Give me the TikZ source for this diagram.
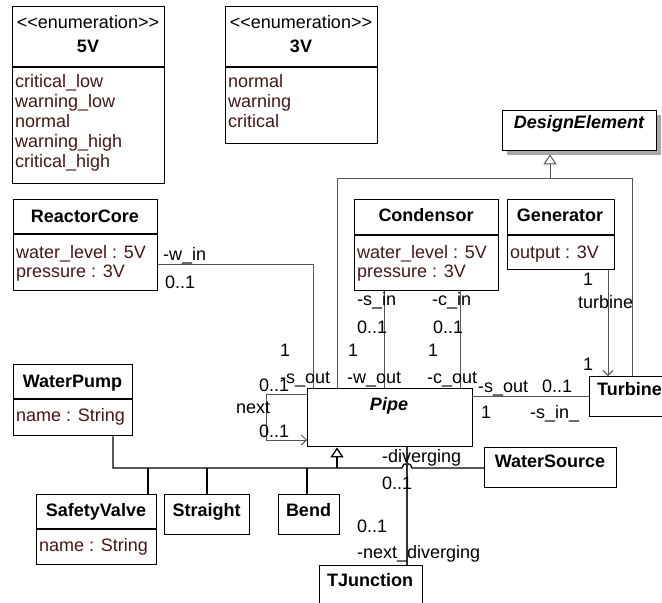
\documentclass[tikz,border=0pt]{standalone}
\usepackage{fontspec}
\setmainfont{Liberation Sans}
\usetikzlibrary{arrows.meta,shadows}

\definecolor{attrc}{RGB}{72,22,22}
\definecolor{linec}{RGB}{85,85,85}
\definecolor{shadowc}{RGB}{170,170,170}
\newcommand\fs{\fontsize{18}{20}\selectfont}
\newcommand\stereo{<\kern0pt<enumeration>\kern0pt>}

\begin{document}
\begin{tikzpicture}[x=1pt,y=-1pt,
  box/.style={draw=black, line width=1.4pt, fill=white, inner sep=0pt, anchor=north west},
  sepl/.style={draw=black, line width=1.2pt},
  ttl/.style={anchor=base, inner sep=0pt, font=\fs\bfseries},
  ittl/.style={anchor=base, inner sep=0pt, font=\fs\bfseries\itshape},
  ster/.style={anchor=base, inner sep=0pt, font=\fs},
  attr/.style={anchor=base west, inner sep=0pt, text=attrc, font=\fs},
  lbl/.style={anchor=base west, inner sep=0pt, font=\fs},
  assoc/.style={draw=linec, line width=1pt},
  tree/.style={draw=black, line width=1.3pt},
  gentip/.style={-{Triangle[length=10pt,width=13pt,fill=white]}},
  navtip/.style={-{Straight Barb[length=5pt,width=10pt]}}
]
\useasboundingbox (0,0) rectangle (662,603);

% ---------- enumerations ----------
\node[box, minimum width=152pt, minimum height=177pt] (e5) at (12,6) {};
\draw[sepl] (e5.west |- 0,67) -- (e5.east |- 0,67);
\node[ster] (e5s) at (88,28) {\stereo};
\node[ttl] (e5t) at (88,52) {5V};
\foreach \t [count=\i] in {critical\_low, warning\_low, normal, warning\_high, critical\_high}
  \node[attr] (e5a\i) at (15,67.5+20*\i) {\t};

\node[box, minimum width=152pt, minimum height=137pt] (e3) at (225,6) {};
\draw[sepl] (e3.west |- 0,67) -- (e3.east |- 0,67);
\node[ster] (e3s) at (301,28) {\stereo};
\node[ttl] (e3t) at (301,52) {3V};
\foreach \t [count=\i] in {normal, warning, critical}
  \node[attr] (e3a\i) at (228,67.5+20*\i) {\t};

% ---------- abstract base ----------
\node[box, minimum width=154pt, minimum height=40pt,
      drop shadow={shadow xshift=4pt, shadow yshift=-4pt, fill=shadowc, opacity=1}] (de) at (502,110) {};
\node[ittl] (det) at (579,128) {DesignElement};

% ---------- classes ----------
\node[box, minimum width=144pt, minimum height=91pt] (rc) at (13,199) {};
\draw[sepl] (rc.west |- 0,234) -- (rc.east |- 0,234);
\node[ttl] (rct) at (85,222) {ReactorCore};
\node[attr] (rca1) at (16,258) {water\_level : 5V};
\node[attr] (rca2) at (16,277) {pressure : 3V};

\node[box, minimum width=144pt, minimum height=91pt] (cond) at (354,199) {};
\draw[sepl] (cond.west |- 0,235) -- (cond.east |- 0,235);
\node[ttl] (condt) at (426,221) {Condensor};
\node[attr] (conda1) at (357,258) {water\_level : 5V};
\node[attr] (conda2) at (357,277) {pressure : 3V};

\node[box, minimum width=107pt, minimum height=70pt] (gen) at (507,199) {};
\draw[sepl] (gen.west |- 0,235) -- (gen.east |- 0,235);
\node[ttl] (gent) at (560,221) {Generator};
\node[attr] (gena1) at (510,258) {output : 3V};

\node[box, minimum width=165pt, minimum height=58pt] (pipe) at (307,388) {};
\node[ittl] (pipet) at (389,410) {Pipe};

\node[box, minimum width=110pt, minimum height=40pt] (turb) at (589,376) {};
\node[ttl, anchor=base west] (turbt) at (597,395) {Turbine};

\node[box, minimum width=119pt, minimum height=71pt] (wp) at (13,364) {};
\draw[sepl] (wp.west |- 0,399) -- (wp.east |- 0,399);
\node[ttl] (wpt) at (72.5,387) {WaterPump};
\node[attr] (wpa1) at (16,421) {name : String};

\node[box, minimum width=120pt, minimum height=70pt] (sv) at (36,494) {};
\draw[sepl] (sv.west |- 0,529) -- (sv.east |- 0,529);
\node[ttl] (svt) at (96,516) {SafetyValve};
\node[attr] (sva1) at (39,551) {name : String};

\node[box, minimum width=85pt, minimum height=40pt] (str) at (164,494) {};
\node[ttl] (strt) at (206.5,516) {Straight};

\node[box, minimum width=61pt, minimum height=40pt] (bend) at (278,494) {};
\node[ttl] (bendt) at (308.5,516) {Bend};

\node[box, minimum width=132pt, minimum height=40pt] (ws) at (484,447) {};
\node[ttl] (wst) at (550,467) {WaterSource};

\node[box, minimum width=103pt, minimum height=45pt] (tj) at (319,565) {};
\node[ttl] (tjt) at (370,586) {TJunction};

% ---------- generalization to DesignElement ----------
\coordinate (gl) at (337,178);
\coordinate (gr) at (632,178);
\coordinate (gj) at (550,178);
\path (gj |- de.south) ++(0,3) coordinate (detip);
\draw[assoc] (gl |- pipe.north) -- (gl) -- (gr) -- (gr |- turb.north);
\draw[assoc, gentip] (gj) -- (detip);

% ---------- generalization to Pipe ----------
\coordinate (bj) at (337,468);
\coordinate (wpj) at (113,468);
\coordinate (svj) at (148,468);
\coordinate (strj) at (207,468);
\coordinate (bendj) at (307,468);
\coordinate (hopl) at (402,468);
\coordinate (hopr) at (412,468);
\draw[tree] (wpj |- wp.south) -- (wpj) -- (hopl)
  .. controls (402,462) and (412,462) .. (hopr) -- (ws.west |- bj);
\draw[tree] (svj) -- (svj |- sv.north);
\draw[tree] (strj) -- (strj |- str.north);
\draw[tree] (bendj) -- (bendj |- bend.north);
\draw[tree, gentip] (bj) -- (bj |- pipe.south);

% ---------- associations ----------
\coordinate (rcw) at (313,264);
\draw[assoc] (rcw -| rc.east) -- (rcw) -- (rcw |- pipe.north);
\coordinate (csx) at (384,0);
\coordinate (ccx) at (460,0);
\draw[assoc] (csx |- cond.south) -- (csx |- pipe.north);
\draw[assoc] (ccx |- cond.south) -- (ccx |- pipe.north);
\coordinate (pt) at (0,396);
\draw[assoc] (pt -| pipe.east) -- (pt -| turb.west);
\coordinate (gtx) at (608,0);
\draw[assoc, navtip] (gtx |- gen.south) -- (gtx |- turb.north);
\coordinate (nlt) at (266,394);
\coordinate (nlb) at (266,440);
\draw[assoc, navtip] (nlt -| pipe.west) -- (nlt) -- (nlb) -- (nlb -| pipe.west);
\coordinate (tjx) at (407,0);
\draw[draw=black!80, line width=1.1pt] (tjx |- pipe.south) -- (tjx |- tj.north);

% ---------- association end labels ----------
\node[lbl] (l-win) at (163,260) {-w\_in};
\node[lbl] (l-win-m) at (165,288) {0..1};
\node[lbl] (l-sout-1) at (280,356) {1};
\node[lbl] (l-sout) at (280,383) {-s\_out};
\node[lbl] (l-next-m1) at (259,391) {0..1};
\node[lbl] (l-next) at (236,413) {next};
\node[lbl] (l-next-m2) at (259,437) {0..1};
\node[lbl] (l-sin) at (357,305) {-s\_in};
\node[lbl] (l-sin-m) at (357,333) {0..1};
\node[lbl] (l-wout-1) at (348,356) {1};
\node[lbl] (l-wout) at (347,383) {-w\_out};
\node[lbl] (l-cin) at (432,305) {-c\_in};
\node[lbl] (l-cin-m) at (433,333) {0..1};
\node[lbl] (l-cout-1) at (428,356) {1};
\node[lbl] (l-cout) at (427,383) {-c\_out};
\node[lbl] (l-tsout) at (478,392) {-s\_out};
\node[lbl] (l-tsout-m) at (542,392) {0..1};
\node[lbl] (l-tsin-1) at (481,418) {1};
\node[lbl] (l-tsin) at (530,418) {-s\_in\_};
\node[lbl] (l-gen-1) at (583,285) {1};
\node[lbl] (l-turbine) at (578,308) {turbine};
\node[lbl] (l-turb-1) at (583,370) {1};
\node[lbl] (l-div) at (382,462) {-diverging};
\node[lbl] (l-div-m) at (382,489) {0..1};
\node[lbl] (l-ndiv-m) at (357,532) {0..1};
\node[lbl] (l-ndiv) at (357,558) {-next\_diverging};
\end{tikzpicture}
\end{document}
